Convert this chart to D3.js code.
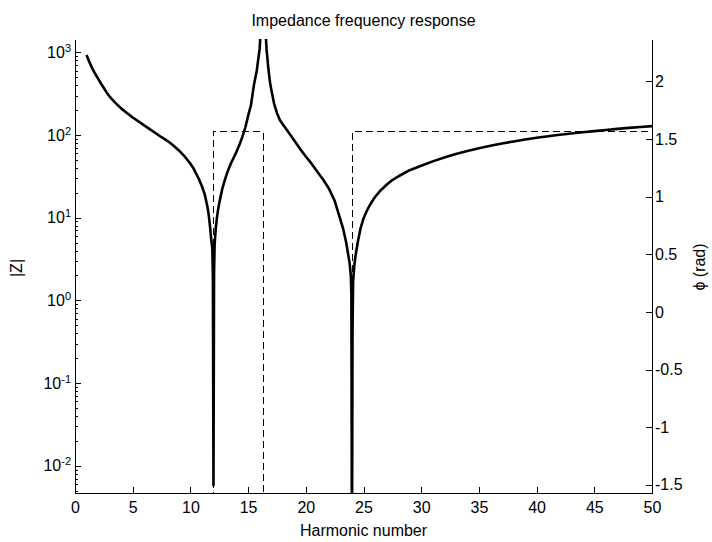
<!DOCTYPE html>
<html>
<head>
<meta charset="utf-8">
<script src="https://cdn.jsdelivr.net/npm/d3@7"></script>
<style>
    body { margin: 0; background: #fff; }
    #chart { width: 712px; height: 542px; }
    .axis text { font-family: "Liberation Sans", Arial, sans-serif; font-size: 16px; fill: #000; }
    .axis path, .axis line { stroke: #000; shape-rendering: crispEdges; }
    .label { font-family: "Liberation Sans", Arial, sans-serif; font-size: 16px; fill: #000; }
</style>
</head>
<body>
<div id="chart"></div>
<script>
// harmonic number vs |Z|
const harmonics = [1, 1.25, 1.5, 1.75, 2, 2.25, 2.5, 2.75, 3, 3.5, 4, 4.5, 5, 5.5, 6, 6.5, 7, 7.5, 8, 8.5,
    9, 9.5, 10, 10.25, 10.5, 10.75, 11, 11.25, 11.5, 11.6, 11.7, 11.8, 11.9, 11.95, 12,
    12.05, 12.1, 12.2, 12.3, 12.4, 12.5, 12.75, 13, 13.25, 13.5, 13.75, 14, 14.25, 14.5, 14.75,
    15, 15.25, 15.5, 15.75, 16, 16.15, 16.3, 16.45, 16.6, 16.75, 16.9, 17, 17.25, 17.5, 17.75, 18,
    18.5, 19, 19.5, 20, 20.5, 21, 21.5, 22, 22.5, 23, 23.25, 23.5, 23.7, 23.8, 23.9, 23.95, 24,
    24.05, 24.1, 24.2, 24.3, 24.5, 24.75, 25, 25.25, 25.5, 25.75, 26, 26.5, 27, 27.5, 28, 29, 30,
    31, 32, 33, 34, 35, 36, 37, 38, 39, 40, 41, 42, 43, 44, 45, 46, 47, 48, 49, 50];
const impedance = [927, 760, 640, 550, 480, 420, 370, 325, 292, 245, 210, 185, 163, 146, 131, 117, 105, 94, 85, 75,
    65, 55, 45, 40, 34, 29, 24, 19, 13, 10.5, 7.8, 5.6, 4.2, 1.9, 0.0058,
    2.2, 4.8, 7.5, 10, 12.5, 15, 22, 29, 37, 45, 53, 63, 76, 95, 122,
    170, 230, 400, 600, 1100, 2500, 20000, 2500, 1100, 650, 430, 360, 240, 185, 152, 135,
    108, 86, 68, 55, 45, 36, 29, 22.5, 16, 9.5, 7.2, 5.0, 3.4, 2.8, 2.0, 1.2, 0.0006,
    0.45, 1.7, 2.6, 3.4, 5, 7.5, 9.8, 11.8, 13.8, 15.8, 17.8, 21.5, 25, 28.5, 31.5, 37.5, 42.5,
    48, 53.5, 59, 64, 69, 74, 79, 83.5, 88, 92.5, 96.5, 100.5, 104.5, 108, 111.5, 115, 118.5, 122, 125, 128];

// phase (rad), dashed
const phaseHarmonics = [1, 11.95, 12, 16.25, 16.3, 23.95, 24, 50];
const phaseRad = [-1.5708, -1.5708, 1.5708, 1.5708, -1.5708, -1.5708, 1.5708, 1.5708];

const xTicks = [0, 5, 10, 15, 20, 25, 30, 35, 40, 45, 50];
const zTicks = [1e-2, 1e-1, 1, 10, 100, 1000];
const zTickExp = ["-2", "-1", "0", "1", "2", "3"];
const phiTicks = [-1.5, -1, -0.5, 0, 0.5, 1, 1.5, 2];

class ImpedanceChart {
    constructor(parentElement) {
        this.parentElement = parentElement;
        this.initVis();
    }

    initVis() {
        let vis = this;

        vis.margin = {top: 39, right: 60, bottom: 49, left: 75};
        vis.width = 712 - vis.margin.left - vis.margin.right;
        vis.height = 542 - vis.margin.top - vis.margin.bottom;

        vis.root = d3.select("#" + vis.parentElement).append("svg")
            .attr("width", 712)
            .attr("height", 542);

        vis.svg = vis.root.append("g")
            .attr("transform", "translate(" + vis.margin.left + "," + vis.margin.top + ")");

        vis.svg.append("clipPath").attr("id", "plot-clip")
            .append("rect")
            .attr("width", vis.width)
            .attr("height", vis.height);

        // the dashed phase sits on the bottom axis, so let it through there
        vis.svg.append("clipPath").attr("id", "phase-clip")
            .append("rect")
            .attr("y", -1)
            .attr("width", vis.width + 1)
            .attr("height", vis.height + 2);

        // Scales
        vis.x = d3.scaleLinear().domain([0, 50]).range([0, vis.width]);
        vis.yZ = d3.scaleLog().domain([0.00468, 1449]).range([vis.height, 0]);
        vis.yPhi = d3.scaleLinear().domain([-1.5708, 2.367]).range([vis.height, 0]);

        vis.updateVis();
    }

    updateVis() {
        let vis = this;

        // phase (dashed)
        let phaseLine = d3.line()
            .x((d, i) => vis.x(phaseHarmonics[i]))
            .y(d => vis.yPhi(d));

        vis.svg.append("g")
            .attr("clip-path", "url(#phase-clip)")
            .append("path")
            .datum(phaseRad)
            .attr("transform", "translate(0.5,0.5)")
            .attr("d", phaseLine)
            .attr("fill", "none")
            .attr("stroke", "#000")
            .attr("stroke-width", 1)
            .attr("shape-rendering", "crispEdges")
            .attr("stroke-dasharray", "7,4");

        // |Z|
        let zLine = d3.line()
            .x((d, i) => vis.x(harmonics[i]))
            .y(d => vis.yZ(d));

        vis.svg.append("path")
            .datum(impedance)
            .attr("clip-path", "url(#plot-clip)")
            .attr("d", zLine)
            .attr("fill", "none")
            .attr("stroke", "#000")
            .attr("stroke-width", 2.6)
            .attr("stroke-linejoin", "round");

        // x axis
        vis.svg.append("g")
            .attr("class", "axis")
            .attr("transform", "translate(0," + vis.height + ")")
            .call(d3.axisBottom(vis.x).tickValues(xTicks).tickSizeInner(-6).tickSizeOuter(0).tickPadding(9));

        // left log axis, minor ticks
        let minor = [];
        for (let e = -3; e <= 3; e++) {
            for (let m = 2; m <= 9; m++) {
                let v = m * Math.pow(10, e);
                if (v >= vis.yZ.domain()[0] && v <= vis.yZ.domain()[1]) minor.push(v);
            }
        }
        vis.svg.append("g")
            .attr("class", "axis")
            .call(d3.axisLeft(vis.yZ).tickValues(minor).tickSizeInner(-3).tickSizeOuter(0).tickFormat(""));

        let left = vis.svg.append("g")
            .attr("class", "axis")
            .call(d3.axisLeft(vis.yZ).tickValues(zTicks).tickSizeInner(-6).tickSizeOuter(0).tickPadding(4));

        left.selectAll(".tick text").each(function (d, i) {
            let t = d3.select(this).text(null);
            t.append("tspan").text("10");
            t.append("tspan")
                .attr("dy", "-0.55em")
                .attr("font-size", "11px")
                .text(zTickExp[i]);
        });

        // right phase axis
        vis.svg.append("g")
            .attr("class", "axis")
            .attr("transform", "translate(" + vis.width + ",0)")
            .call(d3.axisRight(vis.yPhi).tickValues(phiTicks).tickSizeInner(-6).tickSizeOuter(0).tickPadding(3)
                .tickFormat(d => String(d)));

        // labels
        vis.root.append("text")
            .attr("class", "label")
            .attr("text-anchor", "middle")
            .attr("x", vis.margin.left + vis.width / 2)
            .attr("y", 26)
            .text("Impedance frequency response");

        vis.root.append("text")
            .attr("class", "label")
            .attr("text-anchor", "middle")
            .attr("x", vis.margin.left + vis.width / 2)
            .attr("y", 536)
            .text("Harmonic number");

        vis.root.append("text")
            .attr("class", "label")
            .attr("text-anchor", "middle")
            .attr("transform", "translate(22,268) rotate(-90)")
            .text("|Z|");

        vis.root.append("text")
            .attr("class", "label")
            .attr("text-anchor", "middle")
            .attr("transform", "translate(705,267) rotate(-90)")
            .text("\u03D5 (rad)");
    }
}

new ImpedanceChart("chart");
</script>
</body>
</html>
